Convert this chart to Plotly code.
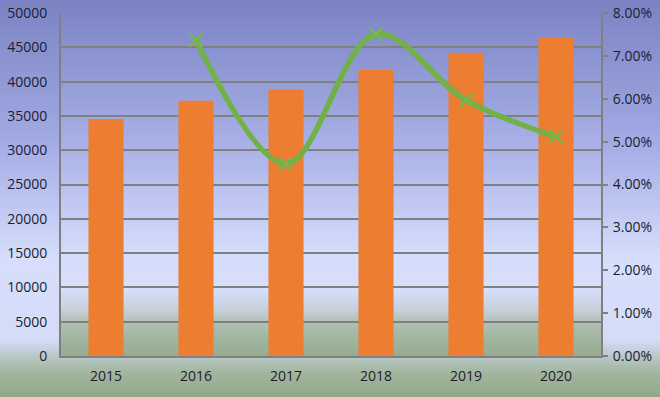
import plotly.graph_objects as go

years = ["2015", "2016", "2017", "2018", "2019", "2020"]
sales = [34550, 37200, 38800, 41700, 44200, 46500]
growth = [None, 0.0737, 0.0448, 0.0751, 0.0597, 0.0511]

left_ticks = [0, 5000, 10000, 15000, 20000, 25000, 30000, 35000, 40000, 45000, 50000]
right_ticks = [0, 0.01, 0.02, 0.03, 0.04, 0.05, 0.06, 0.07, 0.08]

W, H = 660, 397
ml, mr, mt, mb = 61, 59, 13, 41

fig = go.Figure()
fig.add_trace(go.Bar(x=years, y=sales, marker=dict(color="#ed7d31", line=dict(width=0)),
                     width=0.39, yaxis="y", showlegend=False))
fig.add_trace(go.Scatter(x=years, y=growth, mode="lines+markers", yaxis="y2",
                         line=dict(color="#72b148", width=5.5, shape="spline", smoothing=1.0),
                         marker=dict(symbol="x-thin", size=13, color="#72b148",
                                     line=dict(color="#78b550", width=2.5)),
                         showlegend=False, connectgaps=False))

# background gradients: stops given as (pixel row from top of figure, rgb)
fig_stops = [(0, (122, 130, 194)), (140, (162, 170, 228)), (260, (214, 222, 252)),
             (340, (212, 220, 248)), (360, (180, 196, 190)), (375, (160, 180, 155)),
             (397, (146, 168, 138))]
plot_stops = [(13, (126, 134, 198)), (150, (170, 178, 232)), (255, (213, 221, 252)),
              (290, (214, 222, 250)), (310, (200, 208, 220)), (322, (178, 192, 180)),
              (340, (160, 180, 158)), (356, (150, 172, 146))]


def col(stops, y):
    for (a, ca), (b, cb) in zip(stops[:-1], stops[1:]):
        if a <= y <= b:
            f = (y - a) / (b - a)
            return "rgb(%d,%d,%d)" % tuple(round(ca[i] + (cb[i] - ca[i]) * f) for i in range(3))
    return "rgb(%d,%d,%d)" % stops[-1][1]


ph = H - mt - mb
pw = W - ml - mr


def to_paper_y(row):
    return (H - row - mb) / ph


def to_paper_x(colpx):
    return (colpx - ml) / pw


shapes = []
step = 3
for r in range(0, H, step):
    shapes.append(dict(type="rect", xref="paper", yref="paper", layer="below",
                       x0=to_paper_x(-5), x1=to_paper_x(W + 5),
                       y0=to_paper_y(r + step + 0.5), y1=to_paper_y(r - 0.5),
                       fillcolor=col(fig_stops, r + step / 2), line=dict(width=0)))
for r in range(mt, H - mb, step):
    r2 = min(r + step, H - mb)
    shapes.append(dict(type="rect", xref="paper", yref="paper", layer="below",
                       x0=0, x1=1,
                       y0=to_paper_y(r2 + (0.5 if r2 < H - mb else 0)),
                       y1=to_paper_y(r - (0.5 if r > mt else 0)),
                       fillcolor=col(plot_stops, (r + r2) / 2), line=dict(width=0)))

tick_font = dict(family="Open Sans", size=14, color="#1c1c30")

fig.update_layout(
    width=W, height=H,
    margin=dict(l=ml, r=mr, t=mt, b=mb, pad=0),
    paper_bgcolor="rgba(0,0,0,0)", plot_bgcolor="rgba(0,0,0,0)",
    shapes=shapes,
    font=tick_font,
    xaxis=dict(showgrid=False, showline=True, linecolor="#808080", linewidth=2,
               ticks="", tickfont=tick_font, ticklabelstandoff=6, automargin=False),
    yaxis=dict(range=[0, 50000], tickvals=left_ticks, ticktext=[str(v) for v in left_ticks],
               showgrid=True, gridcolor="#808080", gridwidth=2, zeroline=False,
               showline=True, linecolor="#808080", linewidth=2, ticks="",
               tickfont=tick_font, ticklabelstandoff=9, automargin=False),
    yaxis2=dict(range=[0, 0.08], tickvals=right_ticks,
                ticktext=["%.2f%%" % (v * 100) for v in right_ticks],
                overlaying="y", side="right", showgrid=False, zeroline=False,
                showline=True, linecolor="#808080", linewidth=2,
                ticks="outside", ticklen=5, tickcolor="#808080", tickwidth=2,
                tickfont=tick_font, ticklabelstandoff=2, automargin=False),
)

fig.write_html("out.html", config={"displayModeBar": False},
               post_script="document.body.style.margin='0';document.body.style.overflow='hidden';")
